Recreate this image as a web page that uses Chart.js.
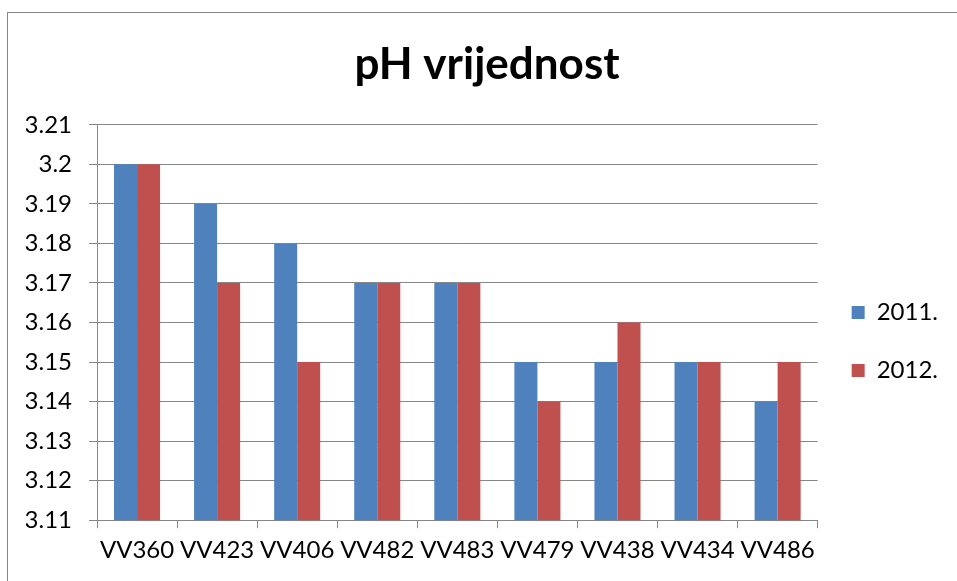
<!DOCTYPE html>
<html>
<head>
<meta charset="utf-8">
<script src="https://cdn.jsdelivr.net/npm/chart.js@4"></script>
<style>
  html, body { margin: 0; padding: 0; background: #fff; overflow: hidden; }
  #wrap { position: relative; width: 957px; height: 581px; }
  #frame {
    position: absolute; left: 7px; top: 12px; width: 1000px; height: 700px;
    border: 1px solid #868686; box-sizing: border-box;
  }
  canvas { position: absolute; left: 0; top: 0; }
</style>
</head>
<body>
<div id="wrap">
  <div id="frame"></div>
  <canvas id="phChart" width="957" height="581"></canvas>
</div>
<script>
// Chart data
const categories = ['VV360', 'VV423', 'VV406', 'VV482', 'VV483', 'VV479', 'VV438', 'VV434', 'VV486'];
const values2011 = [3.20, 3.19, 3.18, 3.17, 3.17, 3.15, 3.15, 3.15, 3.14];
const values2012 = [3.20, 3.17, 3.15, 3.17, 3.17, 3.14, 3.16, 3.15, 3.15];
const seriesLabels = ['2011.', '2012.'];
const yMin = 3.11;
const yMax = 3.21;
const yStep = 0.01;

const FONT = 'Lato, "Open Sans", sans-serif';
const GRID = '#868686';

const ctx = document.getElementById('phChart').getContext('2d');

new Chart(ctx, {
    type: 'bar',
    data: {
        labels: categories,
        datasets: [
            {
                label: seriesLabels[0],
                data: values2011,
                backgroundColor: '#4F81BD',
                borderWidth: 0
            },
            {
                label: seriesLabels[1],
                data: values2012,
                backgroundColor: '#C0504D',
                borderWidth: 0
            }
        ]
    },
    options: {
        responsive: false,
        animation: false,
        devicePixelRatio: 1,
        layout: {
            padding: { left: 26, right: 9, top: 38, bottom: 8 }
        },
        datasets: {
            bar: {
                categoryPercentage: 0.575,
                barPercentage: 1.0
            }
        },
        plugins: {
            title: {
                display: true,
                text: 'pH vrijednost',
                color: '#000',
                font: { family: FONT, size: 44, weight: 'bold' },
                padding: { top: 0, bottom: 34 }
            },
            legend: {
                position: 'right',
                align: 'center',
                // empty title only pushes the items down, like the Excel legend
                title: {
                    display: true,
                    text: ' ',
                    font: { size: 10 },
                    padding: { top: 60, bottom: 0 }
                },
                labels: {
                    color: '#000',
                    font: { family: FONT, size: 24 },
                    boxWidth: 13,
                    boxHeight: 13,
                    padding: 34
                }
            },
            tooltip: { enabled: false }
        },
        scales: {
            x: {
                grid: {
                    offset: true,
                    drawOnChartArea: false,
                    drawTicks: true,
                    tickLength: 8,
                    color: GRID
                },
                border: { color: GRID, width: 1 },
                ticks: {
                    color: '#000',
                    font: { family: FONT, size: 24 },
                    padding: 8,
                    maxRotation: 0,
                    autoSkip: false
                }
            },
            y: {
                min: yMin,
                max: yMax,
                afterFit: function(scale) {
                    scale.width = 71;
                },
                grid: {
                    color: GRID,
                    tickLength: 8,
                    drawTicks: true
                },
                border: { color: GRID, width: 1 },
                ticks: {
                    stepSize: yStep,
                    color: '#000',
                    font: { family: FONT, size: 24 },
                    padding: 17,
                    callback: function(value) {
                        return parseFloat(value.toFixed(2)).toString();
                    }
                }
            }
        }
    }
});
</script>
</body>
</html>
